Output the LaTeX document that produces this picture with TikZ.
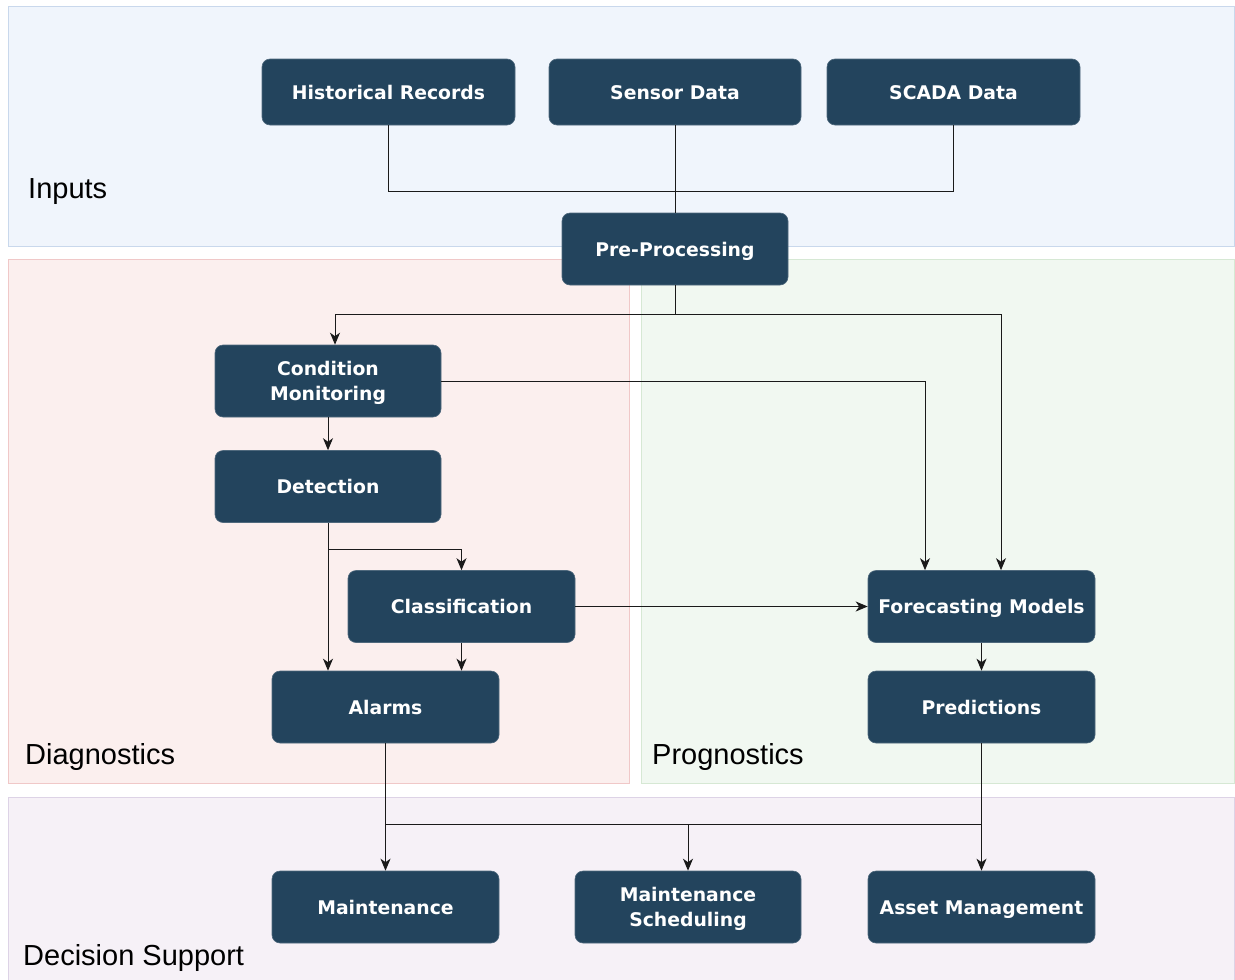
\documentclass[tikz,border=0pt]{standalone}
\usepackage{fontspec}
\setmainfont{Liberation Sans}
\newfontfamily\boxfont{DejaVu Sans}
\usetikzlibrary{arrows.meta}
\definecolor{boxfill}{HTML}{23445D}
\definecolor{inFill}{HTML}{F0F5FC}
\definecolor{inDraw}{HTML}{C9D8EC}
\definecolor{diFill}{HTML}{FBEFEE}
\definecolor{diDraw}{HTML}{F0C8C8}
\definecolor{prFill}{HTML}{F1F8F1}
\definecolor{prDraw}{HTML}{D6E8D4}
\definecolor{dsFill}{HTML}{F6F1F7}
\definecolor{dsDraw}{HTML}{DDD3E6}
\definecolor{wire}{HTML}{1A1A1A}
\tikzset{
  lane/.style={line width=0.8pt},
  lanelabel/.style={anchor=west, inner sep=0pt, font=\fontsize{29}{32}\selectfont},
  proc/.style={rectangle, rounded corners=8pt, fill=boxfill, draw=boxfill!80!white, line width=0.6pt,
    text=white, align=center, inner sep=0pt,
    font=\boxfont\bfseries\fontsize{18.8}{25}\selectfont},
  oneline/.style={text height=19pt, text depth=4.3pt},
  twoline/.style={text depth=-4pt},
  wirestyle/.style={draw=wire, line width=1pt},
  arr/.style={wirestyle, -{Stealth[length=12pt,width=10pt,inset=3.5pt]}},
}
\begin{document}
\begin{tikzpicture}[x=1pt,y=-1pt]
\useasboundingbox (0,0) rectangle (1235,980);
% lanes
\path[lane, fill=inFill, draw=inDraw] (8,6) rectangle (1234,246);
\path[lane, fill=diFill, draw=diDraw] (8,259) rectangle (629,783);
\path[lane, fill=prFill, draw=prDraw] (641,259) rectangle (1234,783);
\path[lane, fill=dsFill, draw=dsDraw] (8,797) rectangle (1234,990);
\node[lanelabel] (lIn) at (28,192) {Inputs};
\node[lanelabel] (lDi) at (25,757) {Diagnostics};
\node[lanelabel] (lPr) at (652,757) {Prognostics};
\node[lanelabel] (lDs) at (23,958) {Decision Support};
% boxes
\node[proc, oneline, minimum width=253pt, minimum height=66pt] (hist) at (388.5,92) {Historical Records};
\node[proc, oneline, minimum width=252pt, minimum height=66pt] (sens) at (675,92) {Sensor Data};
\node[proc, oneline, minimum width=253pt, minimum height=66pt] (scada) at (953.5,92) {SCADA Data};
\node[proc, oneline, minimum width=226pt, minimum height=72pt] (pre) at (675,249) {Pre-Processing};
\node[proc, twoline, minimum width=226pt, minimum height=72pt] (cond) at (328,381) {Condition\\Monitoring};
\node[proc, oneline, minimum width=226pt, minimum height=72pt] (det) at (328,486.5) {Detection};
\node[proc, oneline, minimum width=227pt, minimum height=72pt] (cls) at (461.5,606.5) {Classification};
\node[proc, oneline, minimum width=227pt, minimum height=72pt] (alarm) at (385.5,707) {Alarms};
\node[proc, oneline, minimum width=227pt, minimum height=72pt] (fore) at (981.5,606.5) {Forecasting Models};
\node[proc, oneline, minimum width=227pt, minimum height=72pt] (pred) at (981.5,707) {Predictions};
\node[proc, oneline, minimum width=227pt, minimum height=72pt] (maint) at (385.5,907) {Maintenance};
\node[proc, twoline, minimum width=226pt, minimum height=72pt] (sched) at (688,907) {Maintenance\\Scheduling};
\node[proc, oneline, minimum width=227pt, minimum height=72pt] (asset) at (981.5,907) {Asset Management};
% junction coordinates
\coordinate (jIn) at (675,191);
\coordinate (jPre) at (675,314);
\coordinate (jDet) at (328,549);
\coordinate (jOut) at (688,824);
% input connectors
\draw[wirestyle] (hist.south) |- (jIn);
\draw[wirestyle] (scada.south) |- (jIn);
\draw[wirestyle] (sens.south) -- (pre.north);
% pre-processing split
\draw[wirestyle] (pre.south) -- (jPre);
\draw[arr] (jPre) -| ([xshift=7pt]cond.north);
\draw[arr] (jPre) -| ([xshift=19.5pt]fore.north);
% condition monitoring
\draw[arr] (cond.east) -| ([xshift=-56.5pt]fore.north);
\draw[arr] (cond.south) -- (det.north);
% detection
\draw[arr] (det.south) -- (det.south |- alarm.north);
\draw[arr] (jDet) -| (cls.north);
% classification
\draw[arr] (cls.east) -- (fore.west);
\draw[arr] (cls.south) -- (cls.south |- alarm.north);
% forecasting
\draw[arr] (fore.south) -- (pred.north);
% outputs
\draw[wirestyle] (alarm.south) |- (jOut);
\draw[wirestyle] (pred.south) |- (jOut);
\draw[arr] (alarm.south) -- (maint.north);
\draw[arr] (pred.south) -- (asset.north);
\draw[arr] (jOut) -- (sched.north);
\end{tikzpicture}
\end{document}
